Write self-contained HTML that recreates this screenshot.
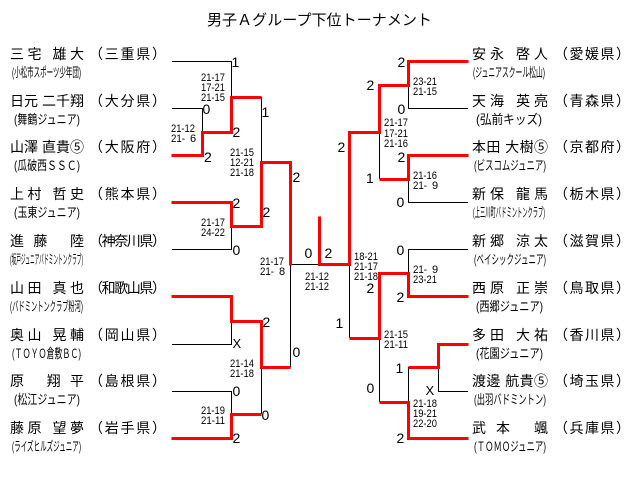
<!DOCTYPE html>
<html><head><meta charset="utf-8"><style>
html,body{margin:0;padding:0;background:#fff;}
svg{display:block;}
</style></head><body>
<svg xmlns="http://www.w3.org/2000/svg" width="640" height="489" viewBox="0 0 640 489" font-family="'Liberation Sans','Noto Sans CJK JP',sans-serif">
<rect width="640" height="489" fill="#fff"/>
<text x="207" y="25" font-size="15" textLength="225" lengthAdjust="spacingAndGlyphs" fill="#000">男子Ａグループ下位トーナメント</text>

<!-- black lines -->
<g fill="none" stroke="#000" stroke-width="1" shape-rendering="crispEdges">
<path d="M172 61.5H231.5V97"/>
<path d="M172 108.5H202.5V132"/>
<path d="M172 249.5H231.5V226"/>
<path d="M172 344.5H231.5V321"/>
<path d="M172 391.5H231.5V414"/>
<path d="M261.5 97V162"/>
<path d="M261.5 367V414"/>
<path d="M290.5 264V367.5"/>
<path d="M290 264.5H319"/>
<path d="M349.5 264V338"/>
<path d="M468 108.5H408.5V85"/>
<path d="M468 202.5H408.5V179"/>
<path d="M379.5 132V179"/>
<path d="M468 249.5H408.5V273"/>
<path d="M468 391.5H438.5V367"/>
<path d="M408.5 367V402"/>
<path d="M379.5 338V402"/>
</g>

<!-- red lines -->
<g fill="none" stroke="#ff0000" stroke-width="3" stroke-linejoin="miter" stroke-linecap="square" shape-rendering="crispEdges">
<path d="M173 155.5H202.5V132.5H231.5V97.5H260"/>
<path d="M173 202.5H231.5V226.5H261.5V162.5H290.5V264"/>
<path d="M173 296.5H231.5V321.5H261.5V367.5H289"/>
<path d="M173 438.5H231.5V414.5H260"/>
<path d="M319.5 218V264.5H349.5V132.5H379.5V85.5H408.5V61.5H467"/>
<path d="M467 155.5H408.5V179.5H381"/>
<path d="M467 296.5H408.5V273.5H379.5V338.5H351"/>
<path d="M467 344.5H438.5V367.5H410"/>
<path d="M467 438.5H408.5V402.5H381"/>
</g>

<!-- left names -->
<g font-size="14" fill="#000">
<text x="10" y="59" textLength="74" lengthAdjust="spacing">三宅 雄大</text>
<text x="89" y="59" textLength="77" lengthAdjust="spacing">（三重県）</text>
<text x="10" y="106" textLength="74" lengthAdjust="spacing">日元 二千翔</text>
<text x="89" y="106" textLength="77" lengthAdjust="spacing">（大分県）</text>
<text x="10" y="152" textLength="74" lengthAdjust="spacing">山澤 直貴⑤</text>
<text x="89" y="152" textLength="77" lengthAdjust="spacing">（大阪府）</text>
<text x="10" y="199" textLength="74" lengthAdjust="spacing">上村 哲史</text>
<text x="89" y="199" textLength="77" lengthAdjust="spacing">（熊本県）</text>
<text x="10" y="246" textLength="74" lengthAdjust="spacing">進藤 陸</text>
<text x="89" y="246" textLength="77" lengthAdjust="spacing">（神奈川県）</text>
<text x="10" y="293" textLength="74" lengthAdjust="spacing">山田 真也</text>
<text x="89" y="293" textLength="77" lengthAdjust="spacing">（和歌山県）</text>
<text x="10" y="340" textLength="74" lengthAdjust="spacing">奥山 晃輔</text>
<text x="89" y="340" textLength="77" lengthAdjust="spacing">（岡山県）</text>
<text x="10" y="386" textLength="74" lengthAdjust="spacing">原 翔平</text>
<text x="89" y="386" textLength="77" lengthAdjust="spacing">（島根県）</text>
<text x="10" y="433" textLength="74" lengthAdjust="spacing">藤原 望夢</text>
<text x="89" y="433" textLength="77" lengthAdjust="spacing">（岩手県）</text>
</g>
<g font-size="13" fill="#000">
<text x="12" y="77" textLength="69" lengthAdjust="spacingAndGlyphs">(小松市スポーツ少年団)</text>
<text x="14" y="124" textLength="66" lengthAdjust="spacingAndGlyphs">(舞鶴ジュニア)</text>
<text x="14" y="170" textLength="66" lengthAdjust="spacingAndGlyphs">(瓜破西ＳＳＣ)</text>
<text x="14" y="217" textLength="66" lengthAdjust="spacingAndGlyphs">(玉東ジュニア)</text>
<text x="10" y="264" textLength="73" lengthAdjust="spacingAndGlyphs">(坂戸ジュニアバドミントンクラブ)</text>
<text x="10" y="311" textLength="73" lengthAdjust="spacingAndGlyphs">(バドミントンクラブ粉河)</text>
<text x="12" y="358" textLength="69" lengthAdjust="spacingAndGlyphs">(ＴＯＹＯ倉敷ＢＣ)</text>
<text x="14" y="404" textLength="66" lengthAdjust="spacingAndGlyphs">(松江ジュニア)</text>
<text x="12" y="451" textLength="69" lengthAdjust="spacingAndGlyphs">(ライズヒルズジュニア)</text>
</g>

<!-- right names -->
<g font-size="14" fill="#000">
<text x="472" y="59" textLength="76" lengthAdjust="spacing">安永 啓人</text>
<text x="554" y="59" textLength="76" lengthAdjust="spacing">（愛媛県）</text>
<text x="472" y="106" textLength="76" lengthAdjust="spacing">天海 英亮</text>
<text x="554" y="106" textLength="76" lengthAdjust="spacing">（青森県）</text>
<text x="472" y="152" textLength="76" lengthAdjust="spacing">本田 大樹⑤</text>
<text x="554" y="152" textLength="76" lengthAdjust="spacing">（京都府）</text>
<text x="472" y="199" textLength="76" lengthAdjust="spacing">新保 龍馬</text>
<text x="554" y="199" textLength="76" lengthAdjust="spacing">（栃木県）</text>
<text x="472" y="246" textLength="76" lengthAdjust="spacing">新郷 涼太</text>
<text x="554" y="246" textLength="76" lengthAdjust="spacing">（滋賀県）</text>
<text x="472" y="293" textLength="76" lengthAdjust="spacing">西原 正崇</text>
<text x="554" y="293" textLength="76" lengthAdjust="spacing">（鳥取県）</text>
<text x="472" y="340" textLength="76" lengthAdjust="spacing">多田 大祐</text>
<text x="554" y="340" textLength="76" lengthAdjust="spacing">（香川県）</text>
<text x="472" y="386" textLength="76" lengthAdjust="spacing">渡邊 航貴⑤</text>
<text x="554" y="386" textLength="76" lengthAdjust="spacing">（埼玉県）</text>
<text x="472" y="433" textLength="76" lengthAdjust="spacing">武本 颯</text>
<text x="554" y="433" textLength="76" lengthAdjust="spacing">（兵庫県）</text>
</g>
<g font-size="13" fill="#000">
<text x="473" y="77" textLength="72" lengthAdjust="spacingAndGlyphs">(ジュニアスクール松山)</text>
<text x="476" y="124" textLength="66" lengthAdjust="spacingAndGlyphs">(弘前キッズ)</text>
<text x="474" y="170" textLength="72" lengthAdjust="spacingAndGlyphs">(ビスコムジュニア)</text>
<text x="473" y="217" textLength="72" lengthAdjust="spacingAndGlyphs">(上三川町バドミントンクラブ)</text>
<text x="474" y="264" textLength="72" lengthAdjust="spacingAndGlyphs">(ベイシックジュニア)</text>
<text x="476" y="311" textLength="67" lengthAdjust="spacingAndGlyphs">(西郷ジュニア)</text>
<text x="476" y="358" textLength="67" lengthAdjust="spacingAndGlyphs">(花園ジュニア)</text>
<text x="474" y="404" textLength="72" lengthAdjust="spacingAndGlyphs">(出羽バドミントン)</text>
<text x="474" y="451" textLength="72" lengthAdjust="spacingAndGlyphs">(ＴＯＭＯジュニア)</text>
</g>

<!-- game scores -->
<g font-size="14" fill="#000" font-family="'Liberation Sans',sans-serif">
<text x="231.5" y="67">1</text>
<text x="202.5" y="114">0</text>
<text x="204" y="162">2</text>
<text x="232.5" y="137">2</text>
<text x="261.5" y="117">1</text>
<text x="232.5" y="208">2</text>
<text x="232.5" y="255">0</text>
<text x="262.5" y="217">2</text>
<text x="292.5" y="182">2</text>
<text x="304.5" y="258">0</text>
<text x="324.5" y="258">2</text>
<text x="262.5" y="327">2</text>
<text x="232.5" y="348" font-size="13">X</text>
<text x="292.5" y="357">0</text>
<text x="232.5" y="396">0</text>
<text x="232.5" y="443">2</text>
<text x="261.5" y="420">0</text>

<text x="397.5" y="67">2</text>
<text x="397.5" y="114">0</text>
<text x="366.5" y="90">2</text>
<text x="337.5" y="152">2</text>
<text x="397.5" y="162">2</text>
<text x="366" y="183">1</text>
<text x="396.5" y="207">0</text>
<text x="396.5" y="255">0</text>
<text x="396.5" y="302">2</text>
<text x="366.5" y="293">2</text>
<text x="335.5" y="328">1</text>
<text x="395.5" y="373">1</text>
<text x="425.5" y="395" font-size="13">X</text>
<text x="366.5" y="393">0</text>
<text x="396.5" y="443">2</text>
</g>

<!-- set scores -->
<g font-size="11" fill="#000" font-family="'Liberation Sans',sans-serif">
<text x="201" y="81" textLength="24" lengthAdjust="spacingAndGlyphs">21-17</text>
<text x="201" y="91" textLength="24" lengthAdjust="spacingAndGlyphs">17-21</text>
<text x="201" y="101" textLength="24" lengthAdjust="spacingAndGlyphs">21-15</text>

<text x="171" y="132" textLength="24" lengthAdjust="spacingAndGlyphs">21-12</text>
<text x="171" y="142" textLength="14" lengthAdjust="spacingAndGlyphs">21-</text><text x="190" y="142">6</text>

<text x="230" y="156" textLength="24" lengthAdjust="spacingAndGlyphs">21-15</text>
<text x="230" y="166" textLength="24" lengthAdjust="spacingAndGlyphs">12-21</text>
<text x="230" y="176" textLength="24" lengthAdjust="spacingAndGlyphs">21-18</text>

<text x="201" y="226" textLength="24" lengthAdjust="spacingAndGlyphs">21-17</text>
<text x="201" y="236" textLength="24" lengthAdjust="spacingAndGlyphs">24-22</text>

<text x="260" y="265" textLength="24" lengthAdjust="spacingAndGlyphs">21-17</text>
<text x="260" y="275" textLength="14" lengthAdjust="spacingAndGlyphs">21-</text><text x="279" y="275">8</text>

<text x="305" y="280" textLength="24" lengthAdjust="spacingAndGlyphs">21-12</text>
<text x="305" y="290" textLength="24" lengthAdjust="spacingAndGlyphs">21-12</text>

<text x="230" y="367" textLength="24" lengthAdjust="spacingAndGlyphs">21-14</text>
<text x="230" y="377" textLength="24" lengthAdjust="spacingAndGlyphs">21-18</text>

<text x="201" y="414" textLength="24" lengthAdjust="spacingAndGlyphs">21-19</text>
<text x="201" y="424" textLength="24" lengthAdjust="spacingAndGlyphs">21-11</text>

<text x="413" y="85" textLength="24" lengthAdjust="spacingAndGlyphs">23-21</text>
<text x="413" y="95" textLength="24" lengthAdjust="spacingAndGlyphs">21-15</text>

<text x="384" y="126" textLength="24" lengthAdjust="spacingAndGlyphs">21-17</text>
<text x="384" y="137" textLength="24" lengthAdjust="spacingAndGlyphs">17-21</text>
<text x="384" y="147" textLength="24" lengthAdjust="spacingAndGlyphs">21-16</text>

<text x="413" y="179" textLength="24" lengthAdjust="spacingAndGlyphs">21-16</text>
<text x="413" y="189" textLength="14" lengthAdjust="spacingAndGlyphs">21-</text><text x="432" y="189">9</text>

<text x="354" y="260" textLength="24" lengthAdjust="spacingAndGlyphs">18-21</text>
<text x="354" y="270" textLength="24" lengthAdjust="spacingAndGlyphs">21-17</text>
<text x="354" y="280" textLength="24" lengthAdjust="spacingAndGlyphs">21-18</text>

<text x="413" y="273" textLength="14" lengthAdjust="spacingAndGlyphs">21-</text><text x="432" y="273">9</text>
<text x="413" y="283" textLength="24" lengthAdjust="spacingAndGlyphs">23-21</text>

<text x="384" y="338" textLength="24" lengthAdjust="spacingAndGlyphs">21-15</text>
<text x="384" y="348" textLength="24" lengthAdjust="spacingAndGlyphs">21-11</text>

<text x="413" y="407" textLength="24" lengthAdjust="spacingAndGlyphs">21-18</text>
<text x="413" y="417" textLength="24" lengthAdjust="spacingAndGlyphs">19-21</text>
<text x="413" y="427" textLength="24" lengthAdjust="spacingAndGlyphs">22-20</text>
</g>
</svg>
</body></html>
